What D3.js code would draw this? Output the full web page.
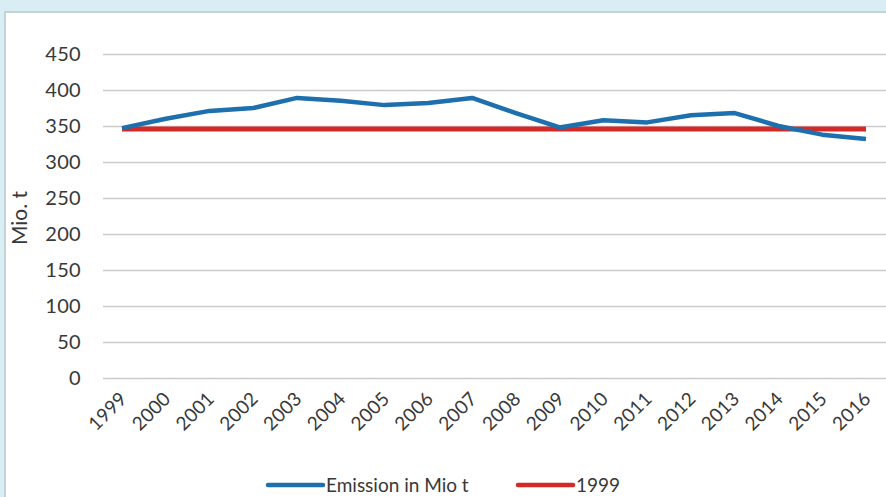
<!DOCTYPE html>
<html>
<head>
<meta charset="utf-8">
<script src="https://cdn.jsdelivr.net/npm/d3@7"></script>
<style>
  html, body { margin: 0; padding: 0; background: #d8edf4; }
  svg { display: block; }
</style>
</head>
<body>
<div id="chart"></div>
<script>
// Emission data
const years = ["1999","2000","2001","2002","2003","2004","2005","2006","2007","2008",
               "2009","2010","2011","2012","2013","2014","2015","2016"];
const emission = [347, 360, 371, 375, 389, 385, 379, 382, 389, 368,
                  348, 358, 355, 365, 368, 350, 338, 332];
const baseline1999 = years.map(() => 346);
const yTicks = [0, 50, 100, 150, 200, 250, 300, 350, 400, 450];

const width = 886, height = 497;
const margin = { left: 103, top: 54, bottom: 119 };
const font = "Lato, 'Open Sans', sans-serif";
const textColor = "#383838";

const svg = d3.select("#chart").append("svg")
    .attr("width", width)
    .attr("height", height);

// white panel with thin grey frame
svg.append("rect")
    .attr("x", 5).attr("y", 12)
    .attr("width", width).attr("height", height)
    .attr("fill", "#fff")
    .attr("stroke", "#c5d3d8")
    .attr("stroke-width", 2);

const x = d3.scalePoint()
    .domain(years)
    .range([122, 866]);

const y = d3.scaleLinear()
    .domain([0, 450])
    .range([height - margin.bottom, margin.top]);

// ─── GRIDLINES + Y AXIS ───
const yAxis = svg.append("g")
    .attr("transform", `translate(${margin.left},0)`)
    .call(d3.axisLeft(y).tickValues(yTicks).tickSize(-(width - margin.left)).tickPadding(22));
yAxis.select(".domain").remove();
yAxis.selectAll(".tick line").attr("stroke", "#cccccc").attr("stroke-width", 1.5);
yAxis.selectAll(".tick text")
    .attr("fill", textColor)
    .style("font-family", font)
    .style("font-size", "20px")
    .style("letter-spacing", "0.3px");

// ─── X AXIS LABELS (rotated) ───
svg.append("g").selectAll("text")
    .data(years)
    .enter().append("text")
    .attr("transform", d => `translate(${x(d) + 6},${y(0) + 22}) rotate(-45)`)
    .attr("text-anchor", "end")
    .attr("fill", textColor)
    .style("font-family", font)
    .style("font-size", "19px")
    .style("letter-spacing", "0.2px")
    .text(d => d);

// y title
svg.append("text")
    .attr("transform", `translate(27,218) rotate(-90)`)
    .attr("text-anchor", "middle")
    .attr("fill", textColor)
    .style("font-family", font)
    .style("font-size", "21px")
    .text("Mio. t");

// ─── LINES ───
const line = d3.line()
    .x((d, i) => x(years[i]))
    .y(d => y(d));

svg.append("path")
    .datum(baseline1999)
    .attr("d", line)
    .attr("fill", "none")
    .attr("stroke", "#d42a27")
    .attr("stroke-width", 5);

svg.append("path")
    .datum(emission)
    .attr("d", line)
    .attr("fill", "none")
    .attr("stroke", "#1d6fae")
    .attr("stroke-width", 4.5)
    .attr("stroke-linejoin", "round");

// ─── LEGEND ───
const legend = [
  { label: "Emission in Mio t", color: "#1d6fae", x: 268 },
  { label: "1999", color: "#d42a27", x: 518 }
];
const lg = svg.append("g").selectAll("g")
    .data(legend)
    .enter().append("g")
    .attr("transform", d => `translate(${d.x},485)`);
lg.append("line")
    .attr("x1", 0).attr("x2", 55)
    .attr("stroke", d => d.color)
    .attr("stroke-width", 4.5)
    .attr("stroke-linecap", "round");
lg.append("text")
    .attr("x", 58).attr("dy", "0.35em")
    .attr("fill", textColor)
    .style("font-family", font)
    .style("font-size", "19px")
    .text(d => d.label);
</script>
</body>
</html>
